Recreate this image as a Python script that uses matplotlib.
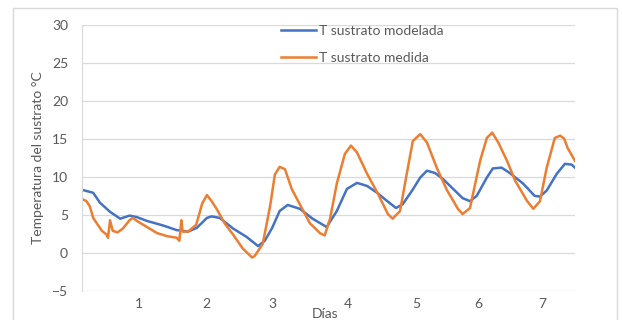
import matplotlib
matplotlib.use("Agg")
import matplotlib.pyplot as plt
from matplotlib.patches import Rectangle

plt.rcParams["font.family"] = ["Lato", "DejaVu Sans"]

# measured substrate temperature (day, °C)
medida_dias = [0.15, 0.22, 0.27, 0.32, 0.38, 0.45, 0.52, 0.54, 0.57, 0.61,
               0.68, 0.76, 0.86, 0.91, 0.97, 1.12, 1.27, 1.42, 1.56, 1.60,
               1.63, 1.65, 1.73, 1.85, 1.94, 2.01, 2.08, 2.16, 2.28, 2.40,
               2.54, 2.68, 2.72, 2.84, 2.95, 3.02, 3.09, 3.17, 3.27, 3.39,
               3.54, 3.69, 3.76, 3.84, 3.94, 4.06, 4.15, 4.24, 4.39, 4.55,
               4.70, 4.77, 4.88, 4.98, 5.07, 5.18, 5.28, 5.43, 5.58, 5.74,
               5.81, 5.92, 6.07, 6.17, 6.25, 6.34, 6.47, 6.59, 6.77, 6.86,
               6.96, 7.06, 7.18, 7.26, 7.32, 7.37, 7.48]
medida_temp = [7.1, 6.8, 6.1, 4.6, 3.8, 2.9, 2.4, 2.0, 4.3, 2.9,
               2.7, 3.2, 4.3, 4.6, 4.2, 3.4, 2.6, 2.2, 2.0, 1.6,
               4.3, 2.8, 2.8, 3.7, 6.5, 7.6, 6.8, 5.7, 3.8, 2.4,
               0.6, -0.6, -0.4, 1.2, 6.2, 10.3, 11.3, 11.0, 8.4, 6.4,
               3.9, 2.6, 2.3, 4.5, 9.1, 13.0, 14.1, 13.2, 10.4, 7.8,
               5.1, 4.5, 5.5, 10.4, 14.7, 15.6, 14.5, 11.1, 8.2, 5.8,
               5.1, 5.9, 12.1, 15.1, 15.8, 14.5, 12.1, 9.5, 6.8, 5.8,
               6.8, 11.2, 15.1, 15.4, 15.0, 13.8, 12.1]

# modelled substrate temperature (day, °C)
modelada_dias = [0.15, 0.32, 0.42, 0.57, 0.72, 0.86, 0.97, 1.12, 1.36, 1.56,
                 1.73, 1.86, 2.01, 2.08, 2.20, 2.40, 2.60, 2.77, 2.87, 2.98,
                 3.09, 3.21, 3.39, 3.58, 3.79, 3.94, 4.09, 4.24, 4.39, 4.54,
                 4.69, 4.82, 4.92, 5.06, 5.18, 5.28, 5.40, 5.52, 5.67, 5.81,
                 5.92, 6.02, 6.17, 6.26, 6.39, 6.51, 6.71, 6.88, 6.96, 7.06,
                 7.21, 7.33, 7.43, 7.48]
modelada_temp = [8.3, 7.9, 6.6, 5.4, 4.5, 4.9, 4.7, 4.2, 3.6, 3.0,
                 2.8, 3.3, 4.6, 4.8, 4.6, 3.2, 2.1, 0.9, 1.6, 3.3,
                 5.5, 6.3, 5.8, 4.5, 3.4, 5.5, 8.4, 9.2, 8.8, 7.9,
                 6.8, 5.9, 6.4, 8.2, 9.9, 10.8, 10.5, 9.7, 8.4, 7.2,
                 6.8, 7.5, 9.9, 11.1, 11.2, 10.5, 9.1, 7.5, 7.4, 8.2,
                 10.4, 11.7, 11.6, 11.2]

dia_ticks = [1.0, 2.0, 2.98, 4.1, 5.12, 6.05, 7.0]
dia_labels = ["1", "2", "3", "4", "5", "6", "7"]

gris = "#595959"
rejilla = "#d9d9d9"

fig = plt.figure(figsize=(6.22, 3.2), dpi=100)
fig.patches.append(Rectangle((13 / 622, -0.1), 604 / 622, 1.1 - 8 / 320,
                             transform=fig.transFigure, fill=False,
                             edgecolor=rejilla, linewidth=1.0))
ax = fig.add_axes([0.1318, 0.0906, 0.7926, 0.8328])

ax.plot(modelada_dias, modelada_temp, color="#4472C4", linewidth=1.8,
        label="T sustrato modelada", solid_joinstyle="round")
ax.plot(medida_dias, medida_temp, color="#ED7D31", linewidth=1.8,
        label="T sustrato medida", solid_joinstyle="round")

ax.set_xlim(0.153, 7.48)
ax.set_ylim(-5, 30)
ax.set_yticks(range(-5, 31, 5))
ax.set_xticks(dia_ticks)
ax.set_xticklabels(dia_labels)
ax.yaxis.grid(True, color=rejilla, linewidth=0.9)
ax.set_axisbelow(True)
for s in ["top", "right", "bottom"]:
    ax.spines[s].set_visible(False)
ax.spines["left"].set_color(rejilla)
ax.tick_params(axis="both", length=0, labelsize=10, labelcolor=gris)
ax.tick_params(axis="y", pad=10)
ax.tick_params(axis="x", pad=5)

ax.set_ylabel("Temperatura del sustrato °C", fontsize=10, color=gris, labelpad=6)
ax.set_xlabel("Días", fontsize=10, color=gris, labelpad=0)
ax.xaxis.set_label_coords((325 - 82) / 493, -0.062)

ax.legend(loc="upper left", bbox_to_anchor=(281 / 622, 1 - 25 / 320),
          bbox_transform=fig.transFigure, frameon=False, fontsize=10,
          handlelength=2.5, handletextpad=0.25, labelspacing=1.05,
          borderpad=0, borderaxespad=0, labelcolor=gris)

fig.savefig("out.png", dpi=100)
